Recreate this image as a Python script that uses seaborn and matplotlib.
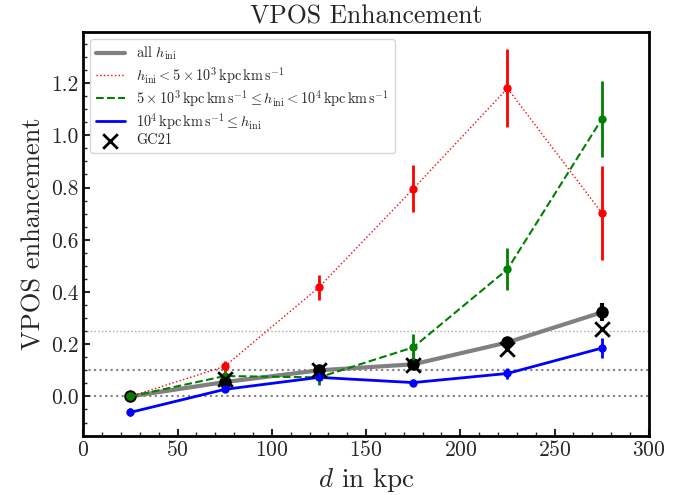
import numpy as np
import pandas as pd
import matplotlib
matplotlib.use("Agg")
import matplotlib.pyplot as plt
import seaborn as sns

# Distance bins (kpc)
d = [25, 75, 125, 175, 225, 275]

# VPOS enhancement for all satellites and per initial angular momentum bin
all_val = [0.000, 0.055, 0.100, 0.123, 0.207, 0.322]
all_err = [0.008, 0.012, 0.012, 0.015, 0.020, 0.035]

low_val = [0.000, 0.115, 0.418, 0.795, 1.180, 0.703]
low_err = [0.008, 0.020, 0.048, 0.090, 0.150, 0.180]

mid_val = [0.000, 0.078, 0.073, 0.188, 0.487, 1.062]
mid_err = [0.008, 0.015, 0.028, 0.050, 0.080, 0.146]

high_val = [-0.061, 0.027, 0.073, 0.053, 0.088, 0.185]
high_err = [0.015, 0.010, 0.012, 0.014, 0.022, 0.038]

gc21_val = [0.065, 0.100, 0.120, 0.180, 0.260]
gc21_d = [75, 125, 175, 225, 275]

ref_levels = [0.0, 0.1]
ref_level_light = 0.25

sns.set_theme(style="ticks")
plt.rcParams.update({
    "font.family": "serif",
    "font.serif": ["cmr10", "DejaVu Serif"],
    "mathtext.fontset": "cm",
    "axes.unicode_minus": False,
    "axes.formatter.use_mathtext": True,
})

fig, ax = plt.subplots(figsize=(6.94, 4.95), dpi=100)

for lvl in ref_levels:
    ax.axhline(lvl, color="gray", ls=":", lw=1.5, zorder=0)
ax.axhline(ref_level_light, color="darkgray", ls=":", lw=1.0, zorder=0)

df_all = pd.DataFrame({"d": d, "v": all_val})
sns.lineplot(data=df_all, x="d", y="v", ax=ax, color="gray", lw=3,
             label=r"all $h_{\rm ini}$", zorder=3)
ax.errorbar(d, all_val, yerr=all_err, fmt="o", color="black", ms=8,
            elinewidth=3, zorder=4)

series = [
    (low_val, low_err, "red", ":", 1.0,
     r"$h_{\rm ini} < 5\times10^3\,{\rm kpc\,km\,s^{-1}}$"),
    (mid_val, mid_err, "green", "--", 1.5,
     r"$5\times10^3\,{\rm kpc\,km\,s^{-1}} \leq h_{\rm ini} < 10^4\,{\rm kpc\,km\,s^{-1}}$"),
    (high_val, high_err, "blue", "-", 2.0,
     r"$10^4\,{\rm kpc\,km\,s^{-1}} \leq h_{\rm ini}$"),
]
for vals, errs, col, ls, lw, lab in series:
    df = pd.DataFrame({"d": d, "v": vals})
    sns.lineplot(data=df, x="d", y="v", ax=ax, color=col, ls=ls, lw=lw,
                 label=lab, zorder=5)
    ax.errorbar(d, vals, yerr=errs, fmt="o", color=col, ms=5,
                elinewidth=2, zorder=5)

ax.scatter(gc21_d, gc21_val, marker="x", s=110, color="black", lw=2,
           label="GC21", zorder=6)

ax.set_xlim(0, 300)
ax.set_ylim(-0.15, 1.395)
ax.set_xticks(np.arange(0, 301, 50))
ax.set_yticks(np.arange(0, 1.21, 0.2))
ax.xaxis.set_minor_locator(matplotlib.ticker.MultipleLocator(10))
ax.yaxis.set_minor_locator(matplotlib.ticker.MultipleLocator(0.05))
ax.yaxis.set_major_formatter(matplotlib.ticker.FormatStrFormatter("%.1f"))
ax.tick_params(which="both", direction="in", labelsize=15.5, width=1.5)
ax.tick_params(which="major", length=5)
ax.tick_params(which="minor", length=3, width=1.0)
for sp in ax.spines.values():
    sp.set_linewidth(2)
    sp.set_color("black")

ax.set_xlabel(r"$d$ in kpc", fontsize=19.5)
ax.set_ylabel("VPOS enhancement", fontsize=19)
ax.set_title("VPOS Enhancement", fontsize=18.5)

ax.legend(loc="upper left", fontsize=10.3, framealpha=0.8, fancybox=True,
          labelspacing=0.15)

fig.subplots_adjust(left=0.12, right=0.935, bottom=0.12, top=0.935)
fig.savefig("out.png", dpi=100)
